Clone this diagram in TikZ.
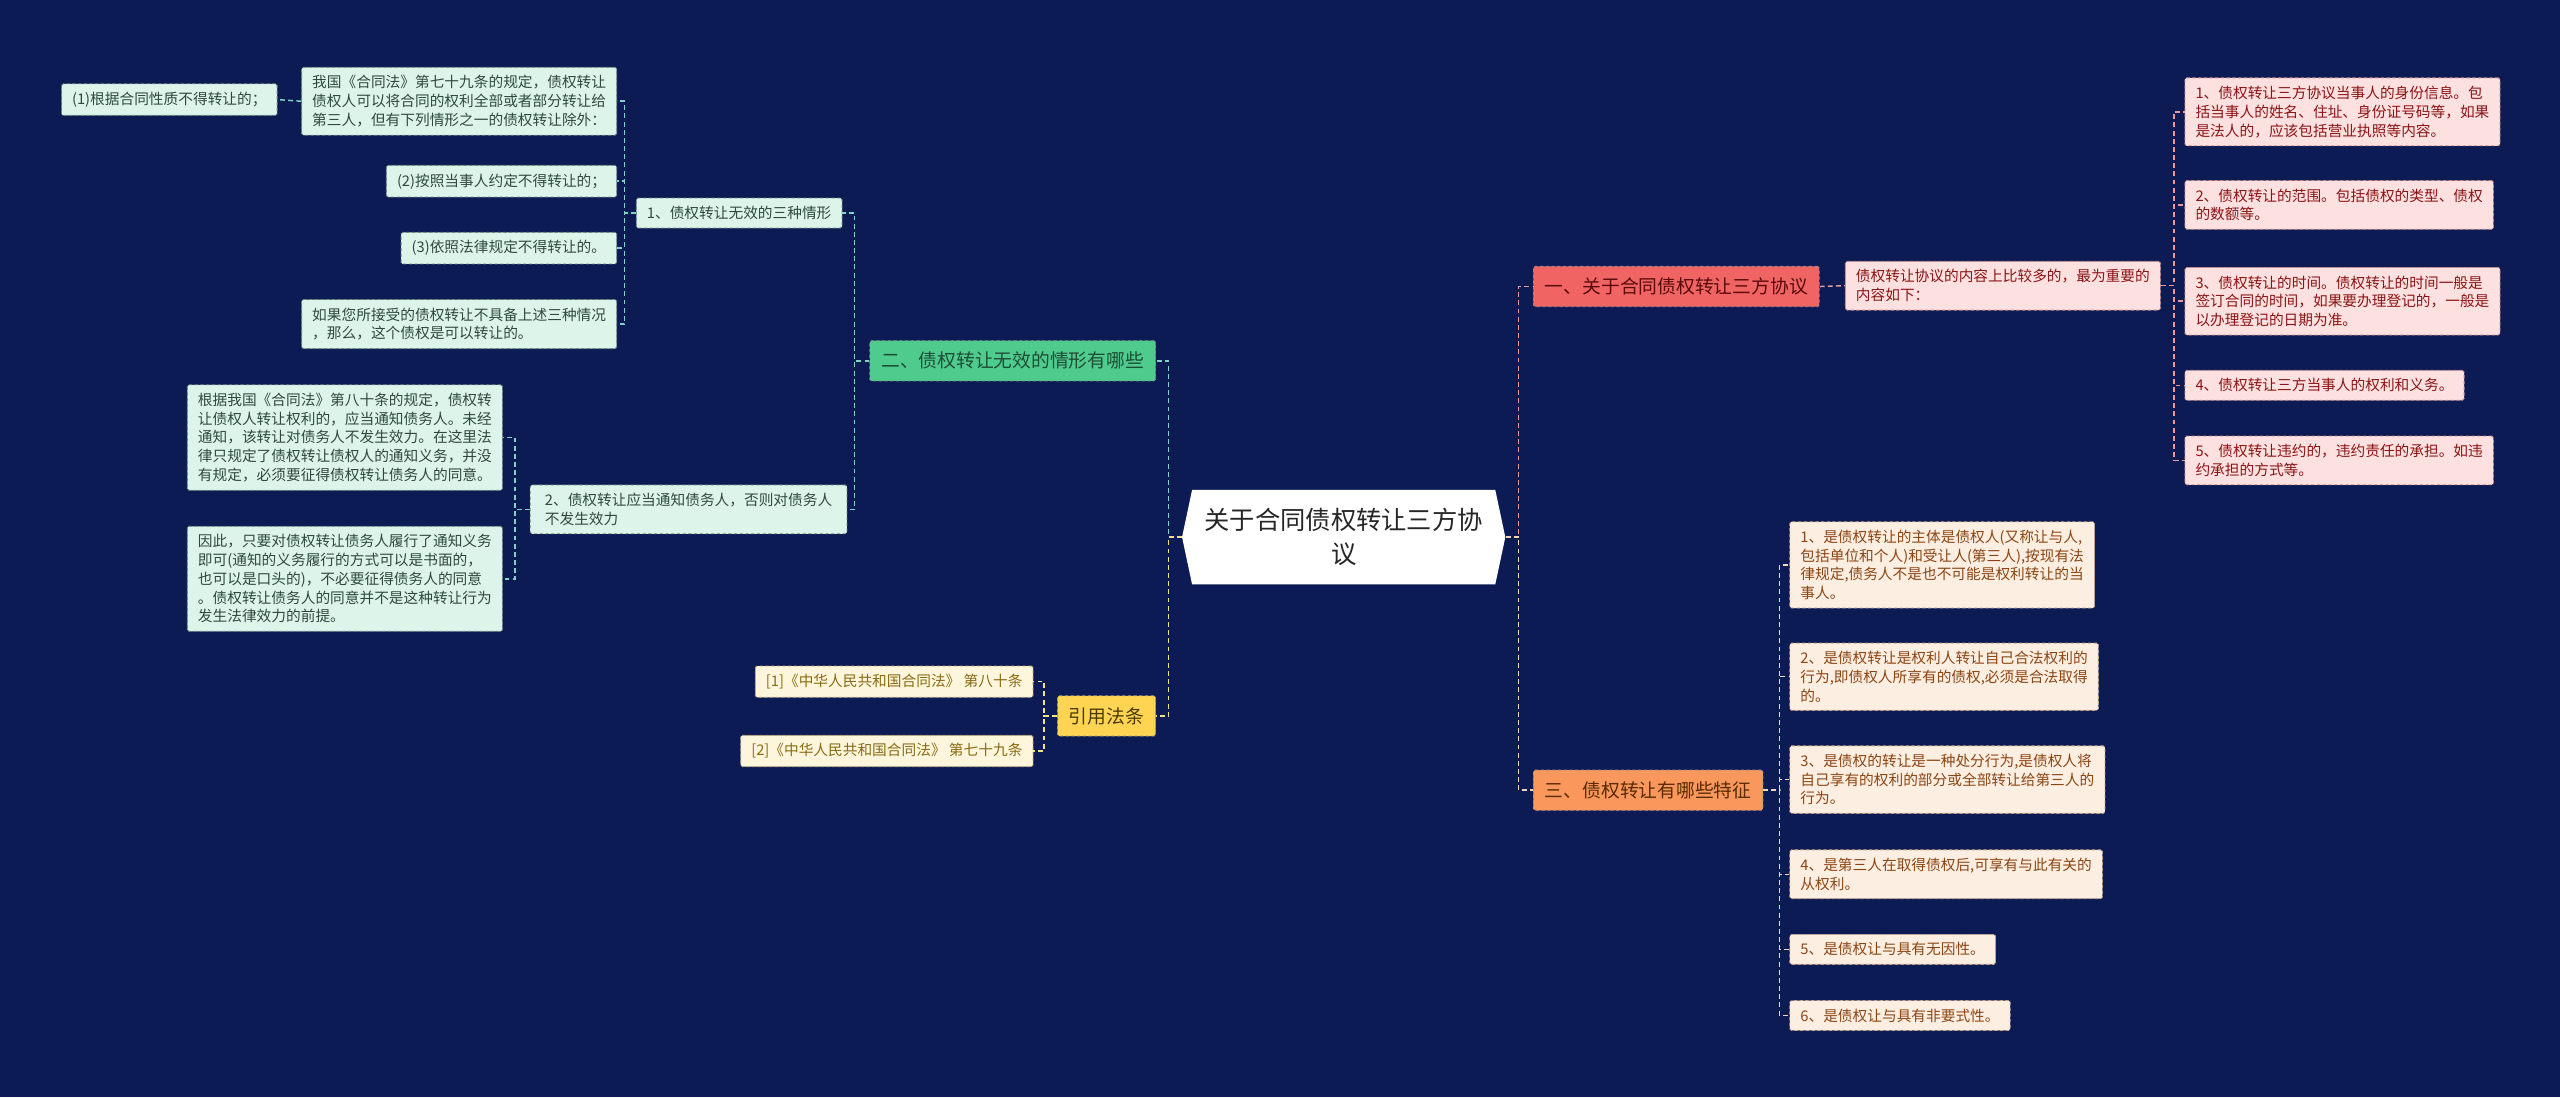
\documentclass[tikz,border=0pt]{standalone}
\usepackage{fontspec}
\setmainfont{Noto Sans CJK SC}
\usetikzlibrary{shapes.symbols}
\definecolor{bg}{HTML}{0D1B54}
\definecolor{mintfill}{HTML}{DDF4EA}
\definecolor{minttext}{HTML}{2E4A3E}
\definecolor{mintdraw}{HTML}{6A8A7E}
\definecolor{greenfill}{HTML}{4FCB8E}
\definecolor{greentext}{HTML}{1D4D35}
\definecolor{greenline}{HTML}{7FD4C4}
\definecolor{yelfill}{HTML}{FFD452}
\definecolor{yeltext}{HTML}{4A3A00}
\definecolor{reffill}{HTML}{FDF6DC}
\definecolor{reftext}{HTML}{8A6A14}
\definecolor{yelline}{HTML}{F2E08C}
\definecolor{redfill}{HTML}{F06464}
\definecolor{redtext}{HTML}{5A0A0A}
\definecolor{pinkfill}{HTML}{FDE1E1}
\definecolor{pinktext}{HTML}{8B1414}
\definecolor{pinkline}{HTML}{E89A9A}
\definecolor{orfill}{HTML}{F9975C}
\definecolor{ortext}{HTML}{5A2A00}
\definecolor{peachfill}{HTML}{FDEEE2}
\definecolor{peachtext}{HTML}{8B4513}
\definecolor{orline}{HTML}{F5D5BB}
\begin{document}
\begin{tikzpicture}[x=1pt,y=-1pt,
  box/.style={rectangle, rounded corners=1pt, dash pattern=on 2pt off 1.5pt, line width=0.5pt,
    inner xsep=6.5pt, inner ysep=5pt, align=left, font=\fontsize{9}{11.5}\selectfont},
  mint/.style={box, fill=mintfill, draw=mintdraw, text=minttext},
  refbox/.style={box, fill=reffill, draw=reftext!60, text=reftext},
  pinkbox/.style={box, fill=pinkfill, draw=pinktext!50, text=pinktext},
  peachbox/.style={box, fill=peachfill, draw=peachtext!50, text=peachtext},
  branch/.style={rectangle, rounded corners=1pt, dash pattern=on 2pt off 1.5pt, line width=0.5pt,
    inner xsep=7pt, inner ysep=7pt, font=\fontsize{11.5}{14}\selectfont},
  link/.style={dash pattern=on 3pt off 2pt, line width=0.9pt}
]
\fill[bg] (0,0) rectangle (1568,672);
\useasboundingbox (0,0) rectangle (1568,672);

% center
\node[signal, signal to=west and east, signal pointer angle=156, fill=white,
  minimum width=198pt, minimum height=58pt, inner sep=2pt, align=center,
  font=\fontsize{15.5}{21}\selectfont, text=black!85] (C) at (823,329) {关于合同债权转让三方协\\议};

% left: branch 2
\node[branch, fill=greenfill, draw=greentext!60, text=greentext, anchor=east] (B2) at (708,221) {二、债权转让无效的情形有哪些};
\node[mint, anchor=east] (a1) at (516,130.5) {1、债权转让无效的三种情形};
\node[mint, anchor=east, inner xsep=9pt] (a2) at (519,312) {2、债权转让应当通知债务人，否则对债务人\\不发生效力};
\node[mint, anchor=east] (w1) at (378,62) {我国《合同法》第七十九条的规定，债权转让\\债权人可以将合同的权利全部或者部分转让给\\第三人，但有下列情形之一的债权转让除外：};
\node[mint, anchor=east] (n1) at (170,61) {(1)根据合同性质不得转让的；};
\node[mint, anchor=east] (w2) at (378,111) {(2)按照当事人约定不得转让的；};
\node[mint, anchor=east] (w3) at (378,152) {(3)依照法律规定不得转让的。};
\node[mint, anchor=east] (w4) at (378,198.5) {如果您所接受的债权转让不具备上述三种情况\\，那么，这个债权是可以转让的。};
\node[mint, anchor=east] (g1) at (308,268) {根据我国《合同法》第八十条的规定，债权转\\让债权人转让权利的，应当通知债务人。未经\\通知，该转让对债务人不发生效力。在这里法\\律只规定了债权转让债权人的通知义务，并没\\有规定，必须要征得债权转让债务人的同意。};
\node[mint, anchor=east] (g2) at (308,354.5) {因此，只要对债权转让债务人履行了通知义务\\即可(通知的义务履行的方式可以是书面的，\\也可以是口头的)，不必要征得债务人的同意\\。债权转让债务人的同意并不是这种转让行为\\发生法律效力的前提。};

% left: references
\node[branch, fill=yelfill, draw=yeltext!50, text=yeltext, anchor=east] (R) at (708,438.5) {引用法条};
\node[refbox, anchor=east] (r1) at (633,417.5) {[1]《中华人民共和国合同法》 第八十条};
\node[refbox, anchor=east] (r2) at (633,460) {[2]《中华人民共和国合同法》 第七十九条};

% right: branch 1
\node[branch, fill=redfill, draw=redtext!50, text=redtext, anchor=west] (B1) at (939,175.5) {一、关于合同债权转让三方协议};
\node[pinkbox, anchor=west] (p0) at (1130,175) {债权转让协议的内容上比较多的，最为重要的\\内容如下：};
\node[pinkbox, anchor=west] (p1) at (1338,68.5) {1、债权转让三方协议当事人的身份信息。包\\括当事人的姓名、住址、身份证号码等，如果\\是法人的，应该包括营业执照等内容。};
\node[pinkbox, anchor=west] (p2) at (1338,125.5) {2、债权转让的范围。包括债权的类型、债权\\的数额等。};
\node[pinkbox, anchor=west] (p3) at (1338,184.5) {3、债权转让的时间。债权转让的时间一般是\\签订合同的时间，如果要办理登记的，一般是\\以办理登记的日期为准。};
\node[pinkbox, anchor=west] (p4) at (1338,236) {4、债权转让三方当事人的权利和义务。};
\node[pinkbox, anchor=west] (p5) at (1338,282) {5、债权转让违约的，违约责任的承担。如违\\约承担的方式等。};

% right: branch 3
\node[branch, fill=orfill, draw=ortext!50, text=ortext, anchor=west] (B3) at (939,484) {三、债权转让有哪些特征};
\node[peachbox, anchor=west] (q1) at (1096,346) {1、是债权转让的主体是债权人(又称让与人,\\包括单位和个人)和受让人(第三人),按现有法\\律规定,债务人不是也不可能是权利转让的当\\事人。};
\node[peachbox, anchor=west] (q2) at (1096,414.5) {2、是债权转让是权利人转让自己合法权利的\\行为,即债权人所享有的债权,必须是合法取得\\的。};
\node[peachbox, anchor=west] (q3) at (1096,477.5) {3、是债权的转让是一种处分行为,是债权人将\\自己享有的权利的部分或全部转让给第三人的\\行为。};
\node[peachbox, anchor=west] (q4) at (1096,535.5) {4、是第三人在取得债权后,可享有与此有关的\\从权利。};
\node[peachbox, anchor=west] (q5) at (1096,581.5) {5、是债权让与具有无因性。};
\node[peachbox, anchor=west] (q6) at (1096,622) {6、是债权让与具有非要式性。};

% connectors
\draw[link, greenline] (C.west) -- ++(-8,0) |- (B2.east);
\draw[link, yelline] (C.west) -- ++(-8,0) |- (R.east);
\foreach \c in {a1,a2} \draw[link, greenline] (B2.west) -- ++(-9,0) |- (\c.east);
\foreach \c in {w1,w2,w3,w4} \draw[link, greenline] (a1.west) -- ++(-7,0) |- (\c.east);
\draw[link, greenline] (w1.west) -- (n1.east);
\foreach \c in {g1,g2} \draw[link, greenline] (a2.west) -- ++(-9,0) |- (\c.east);
\foreach \c in {r1,r2} \draw[link, yelline] (R.west) -- ++(-8,0) |- (\c.east);
\draw[link, pinkline] (C.east) -- ++(8,0) |- (B1.west);
\draw[link, orline] (C.east) -- ++(8,0) |- (B3.west);
\draw[link, pinkline] (B1.east) -- (p0.west);
\foreach \c in {p1,p2,p3,p4,p5} \draw[link, pinkline] (p0.east) -- ++(8,0) |- (\c.west);
\foreach \c in {q1,q2,q3,q4,q5,q6} \draw[link, orline] (B3.east) -- ++(10,0) |- (\c.west);
\end{tikzpicture}
\end{document}
